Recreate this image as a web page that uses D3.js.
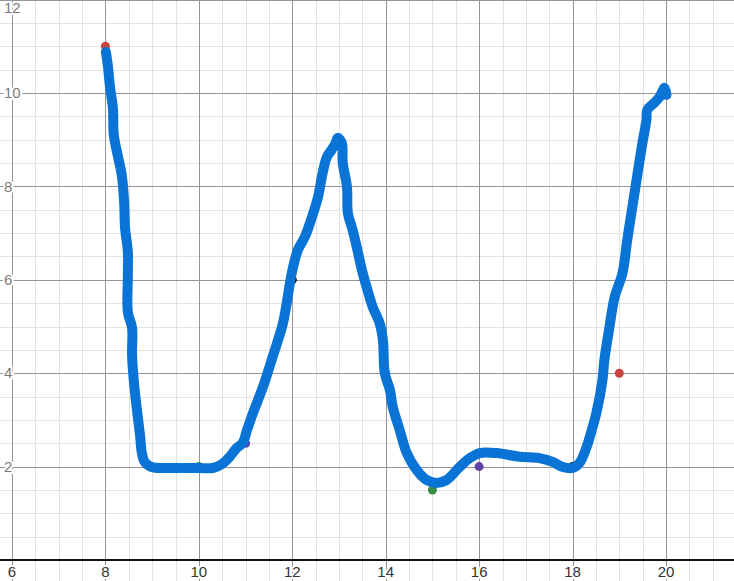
<!DOCTYPE html>
<html>
<head>
<meta charset="utf-8">
<script src="https://cdn.jsdelivr.net/npm/d3@7"></script>
<style>
html,body{margin:0;padding:0;background:#fff;overflow:hidden;}
svg{display:block;}
</style>
</head>
<body>
<svg id="chart" width="734" height="581"></svg>
<script>
const curveX = [8.01,8.05,8.10,8.16,8.18,8.27,8.35,8.40,8.42,8.48,8.48,8.48,8.57,8.57,8.61,8.67,8.74,8.78,8.84,8.99,9.27,9.70,10.00,10.30,10.50,10.66,10.81,10.94,11.03,11.16,11.37,11.58,11.80,11.88,11.99,12.12,12.27,12.42,12.55,12.65,12.74,12.84,12.93,12.97,13.06,13.08,13.17,13.19,13.29,13.38,13.49,13.61,13.72,13.87,13.94,13.98,14.09,14.15,14.30,14.45,14.66,14.88,15.09,15.30,15.58,15.80,16.01,16.37,16.87,17.29,17.57,17.79,18.00,18.15,18.30,18.43,18.51,18.64,18.68,18.79,18.90,19.07,19.17,19.28,19.37,19.48,19.58,19.60,19.75,19.86,19.97,20.01];
const curveY = [10.88,10.60,10.11,9.68,9.10,8.63,8.24,7.67,7.11,6.60,6.10,5.31,4.97,4.39,3.81,3.25,2.68,2.29,2.10,1.99,1.97,1.97,1.97,1.97,2.06,2.21,2.40,2.51,2.78,3.15,3.70,4.35,5.07,5.50,6.15,6.64,6.92,7.34,7.77,8.29,8.63,8.78,8.93,9.04,8.93,8.50,7.99,7.43,7.07,6.70,6.21,5.78,5.42,5.07,4.71,4.00,3.64,3.28,2.78,2.29,1.93,1.71,1.65,1.71,1.99,2.18,2.29,2.29,2.21,2.18,2.10,1.99,1.97,2.08,2.42,2.85,3.15,3.85,4.28,4.99,5.63,6.15,6.85,7.56,8.14,8.84,9.42,9.64,9.79,9.91,10.11,9.96];

const pointX = [8, 10, 11, 12, 13, 14, 15, 16, 18, 19, 20];
const pointY = [11, 2, 2.5, 6, 9, 4, 1.5, 2, 2, 4, 10];
const pointColor = ["#c74440","#388c46","#6042a6","#000000","#000000","#2d70b3","#388c46","#6042a6","#000000","#c74440","#2d70b3"];

const xTickLabels = [6, 8, 10, 12, 14, 16, 18, 20];
const yTickLabels = [2, 4, 6, 8, 10, 12];

const W = 734, H = 581;
const svg = d3.select("#chart");
const x = d3.scaleLinear().domain([6, 20]).range([12, 666]);
const y = d3.scaleLinear().domain([0, 10]).range([560, 93]);

const xMin = x.invert(0), xMax = x.invert(W);
const yMin = y.invert(H), yMax = y.invert(0);

// minor grid
const minorX = d3.range(Math.ceil(xMin*2)/2, xMax, 0.5).filter(v => Math.abs(v/2 - Math.round(v/2)) > 1e-6);
const minorY = d3.range(Math.ceil(yMin*2)/2, yMax, 0.5).filter(v => Math.abs(v/2 - Math.round(v/2)) > 1e-6);
const g = svg.append("g").attr("shape-rendering", "crispEdges");
g.selectAll(".mx").data(minorX).join("line")
  .attr("x1", d => Math.round(x(d)) + 0.5).attr("x2", d => Math.round(x(d)) + 0.5)
  .attr("y1", 0).attr("y2", H).attr("stroke", "#e3e3e3").attr("stroke-width", 1);
g.selectAll(".my").data(minorY).join("line")
  .attr("y1", d => Math.round(y(d)) + 0.5).attr("y2", d => Math.round(y(d)) + 0.5)
  .attr("x1", 0).attr("x2", W).attr("stroke", "#e3e3e3").attr("stroke-width", 1);

// major grid
const majorX = d3.range(Math.ceil(xMin/2)*2, xMax, 2);
const majorY = d3.range(2, yMax + 0.01, 2);
g.selectAll(".MX").data(majorX).join("line")
  .attr("x1", d => Math.round(x(d)) + 0.5).attr("x2", d => Math.round(x(d)) + 0.5)
  .attr("y1", 0).attr("y2", H).attr("stroke", "#959595").attr("stroke-width", 1);
g.selectAll(".MY").data(majorY).join("line")
  .attr("y1", d => Math.round(y(d)) + 0.5).attr("y2", d => Math.round(y(d)) + 0.5)
  .attr("x1", 0).attr("x2", W).attr("stroke", "#959595").attr("stroke-width", 1);

// x axis (y = 0)
svg.append("line").attr("x1", 0).attr("x2", W)
  .attr("y1", y(0)).attr("y2", y(0))
  .attr("stroke", "#111").attr("stroke-width", 2);

// labels
const font = "Liberation Sans, Arial, sans-serif";
svg.selectAll(".xl").data(xTickLabels).join("text")
  .attr("x", d => x(d)).attr("y", 577)
  .attr("text-anchor", "middle")
  .attr("font-family", font).attr("font-size", 15)
  .attr("fill", "#333")
  .attr("stroke", "#fff").attr("stroke-width", 4).attr("paint-order", "stroke")
  .text(d => d);
svg.selectAll(".yl").data(yTickLabels).join("text")
  .attr("x", 4).attr("y", d => Math.max(y(d), 8))
  .attr("dy", "0.35em")
  .attr("text-anchor", "start")
  .attr("font-family", font).attr("font-size", 15)
  .attr("fill", "#7a7a7a")
  .attr("stroke", "#fff").attr("stroke-width", 4).attr("paint-order", "stroke")
  .text(d => d);

// points (under curve)
svg.selectAll(".pt").data(pointX.map((v, i) => ({x: v, y: pointY[i], c: pointColor[i]}))).join("circle")
  .attr("cx", d => x(d.x)).attr("cy", d => y(d.y)).attr("r", 4.5)
  .attr("fill", d => d.c);

// curve
const line = d3.line().x(d => x(d[0])).y(d => y(d[1])).curve(d3.curveCatmullRom.alpha(0.5));
svg.append("path")
  .datum(curveX.map((v, i) => [v, curveY[i]]))
  .attr("d", line)
  .attr("fill", "none")
  .attr("stroke", "#0a74d6")
  .attr("stroke-width", 10)
  .attr("stroke-linecap", "round")
  .attr("stroke-linejoin", "round");
</script>
</body>
</html>
